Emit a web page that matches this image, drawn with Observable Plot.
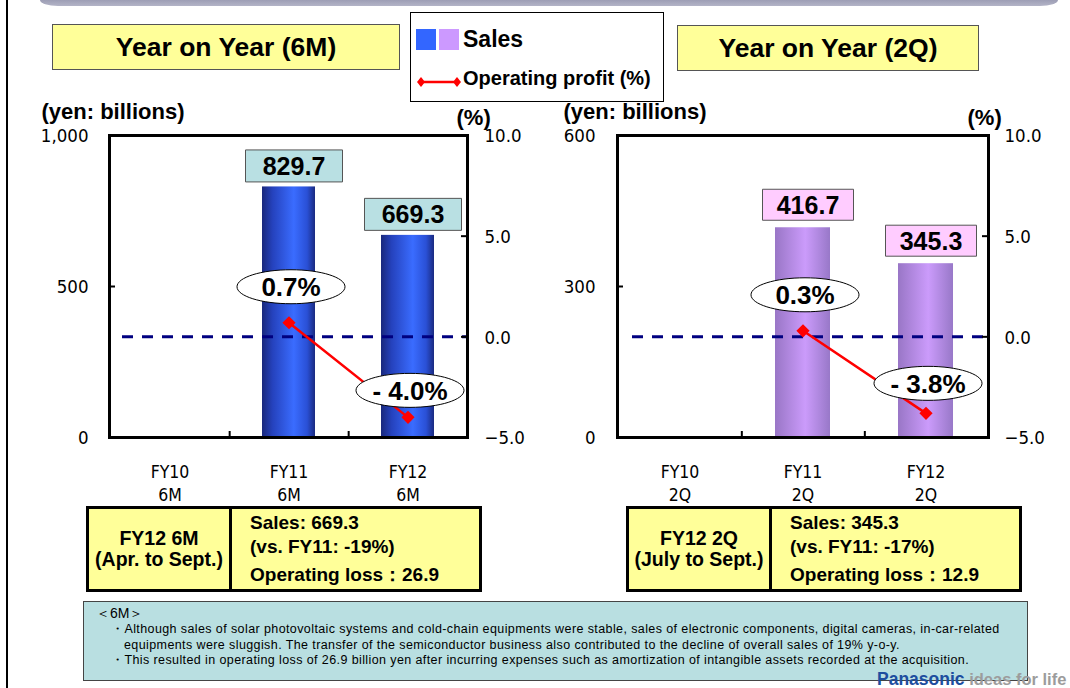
<!DOCTYPE html>
<html>
<head>
<meta charset="utf-8">
<script src="https://cdn.jsdelivr.net/npm/d3@7"></script>
<script src="https://cdn.jsdelivr.net/npm/@observablehq/plot@0.6"></script>
<style>
  html, body { margin: 0; padding: 0; background: #fff; }
  body { width: 1070px; height: 688px; position: relative; overflow: hidden;
         font-family: "Liberation Sans", Arial, Helvetica, sans-serif; color: #000; }
  .abs { position: absolute; }
  .topbar { left: 40px; top: 0; width: 1018px; height: 6px;
            background: linear-gradient(#9d9eb5, #b3b4c7); border-radius: 0 0 18px 18px / 0 0 6px 6px; }
  .edge { left: 6px; top: 0; width: 2px; height: 688px; background: #000; }
  .title { background: #ffff99; border: 1px solid #555; box-sizing: border-box; font-weight: bold;
           font-size: 26.5px; display: flex; align-items: center; justify-content: center; }
  .legend { left: 410px; top: 12px; width: 254px; height: 90px; border: 1px solid #000;
            box-sizing: border-box; background: #fff; }
  .legend .sw { position: absolute; top: 16px; width: 20px; height: 21px; }
  .legend .t1 { position: absolute; left: 52px; top: 13px; font-size: 23px; font-weight: bold; line-height: 26px; }
  .legend .t2 { position: absolute; left: 52px; top: 53px; font-size: 20px; font-weight: bold; line-height: 24px; white-space: nowrap; }
  .chart { top: 95px; width: 535px; height: 420px; }
  .info { top: 506px; width: 396px; height: 86px; border: 3px solid #000; box-sizing: border-box;
          background: #ffff99; display: flex; font-weight: bold; }
  .info .l { width: 140px; border-right: 3px solid #000; display: flex; flex-direction: column;
             justify-content: center; align-items: center; font-size: 19.5px; line-height: 21px; text-align: center; }
  .info .r { padding: 2px 0 0 18px; font-size: 19px; line-height: 24px; white-space: nowrap; }
  .info .r .gap { margin-top: 4px; }
  .notes { left: 83px; top: 601px; width: 945px; height: 80px; background: #b9dfe1; border: 1px solid #444;
           box-sizing: border-box; font-size: 12.5px; letter-spacing: 0.4px; line-height: 15.5px;
           padding: 2px 0 0 12px; white-space: nowrap; }
  .notes .head { font-size: 14px; letter-spacing: 0; line-height: 18px; }
  .notes .item { padding-left: 28px; text-indent: -13px; }
  .brand { left: 877px; top: 670px; font-weight: bold; font-size: 16.5px; white-space: nowrap; line-height: 18px; }
</style>
</head>
<body>
<svg width="0" height="0" style="position:absolute">
  <defs>
    <linearGradient id="barBlue" x1="0" x2="1" y1="0" y2="0">
      <stop offset="0" stop-color="#19287c"/>
      <stop offset="0.2" stop-color="#2542bd"/>
      <stop offset="0.6" stop-color="#3a6cff"/>
      <stop offset="0.85" stop-color="#2a50d6"/>
      <stop offset="1" stop-color="#1a2a80"/>
    </linearGradient>
    <linearGradient id="barLilac" x1="0" x2="1" y1="0" y2="0">
      <stop offset="0" stop-color="#9976c6"/>
      <stop offset="0.55" stop-color="#cb9bfb"/>
      <stop offset="1" stop-color="#9878c8"/>
    </linearGradient>
  </defs>
</svg>

<div class="abs edge"></div>
<div class="abs topbar"></div>
<div class="abs title" id="title6M" style="left:52px;top:24px;width:348px;height:46px"></div>
<div class="abs title" id="title2Q" style="left:677px;top:25px;width:302px;height:46px"></div>

<div class="abs legend">
  <div class="sw" style="left:5px;background:#3366ff"></div>
  <div class="sw" style="left:28px;background:#cc99ff"></div>
  <div class="t1">Sales</div>
  <svg style="position:absolute;left:6px;top:61px" width="44" height="16">
    <line x1="4" y1="8" x2="40" y2="8" stroke="#ff0000" stroke-width="2.5"/>
    <path d="M4 3 L8 8 L4 13 L0 8 Z" fill="#ff0000"/>
    <path d="M40 3 L44 8 L40 13 L36 8 Z" fill="#ff0000"/>
  </svg>
  <div class="t2">Operating profit (%)</div>
</div>

<div class="abs chart" id="chart6M" style="left:0"></div>
<div class="abs chart" id="chart2Q" style="left:535px"></div>

<div class="abs info" id="info6M" style="left:86px"></div>
<div class="abs info" id="info2Q" style="left:626px"></div>

<div class="abs notes" id="notes"></div>

<div class="abs brand"><span style="color:#1d4e9f;font-size:17.5px">Panasonic</span> <span style="color:#9c9c9c">ideas for life</span></div>

<script>
// Fiscal periods on the category axis
const categories = ["FY10", "FY11", "FY12"];

// First half (April to September), yen billions and operating margin %
const sales6M = [null, 829.7, 669.3];
const margin6M = [null, 0.7, -4.0];
const operatingLoss6M = 26.9;

// Second quarter (July to September)
const sales2Q = [null, 416.7, 345.3];
const margin2Q = [null, 0.3, -3.8];
const operatingLoss2Q = 12.9;

// Axis ticks
const salesTicks6M = [0, 500, 1000];
const salesTicks2Q = [0, 300, 600];
const marginTicks = [-5, 0, 5, 10];

// Text
const periodLabels = {"6M": "Apr. to Sept.", "2Q": "July to Sept."};
const noteHeading = "＜6M＞";
const noteItems = [
  ["Although sales of solar photovoltaic systems and cold-chain equipments were stable, sales of electronic components, digital cameras, in-car-related",
   "equipments were sluggish. The transfer of the semiconductor business also contributed to the decline of overall sales of 19% y-o-y."],
  ["This resulted in operating loss of 26.9 billion yen after incurring expenses such as amortization of intangible assets recorded at the acquisition."]
];

const narrow = '"Liberation Sans Narrow", "Arial Narrow", "DejaVu Sans Condensed", sans-serif';
const sans = '"Liberation Sans", Arial, Helvetica, sans-serif';

// Symbols: an oval callout and a rectangular value box
function ovalSymbol(rx, ry) {
  const k = 0.5523;
  return {draw(ctx) {
    ctx.moveTo(rx, 0);
    ctx.bezierCurveTo(rx, ry * k, rx * k, ry, 0, ry);
    ctx.bezierCurveTo(-rx * k, ry, -rx, ry * k, -rx, 0);
    ctx.bezierCurveTo(-rx, -ry * k, -rx * k, -ry, 0, -ry);
    ctx.bezierCurveTo(rx * k, -ry, rx, -ry * k, rx, 0);
    ctx.closePath();
  }};
}
function boxSymbol(w, h) {
  return {draw(ctx) { ctx.rect(-w / 2, -h / 2, w, h); }};
}

function yearOnYear(cfg) {
  const {period, sales, margin, salesTicks, barFill, boxFill, ml, mr, barInset,
         boxW, boxH, boxDx, boxDy, ovalDx, ovalDy, dashInset, yTitleDx, pctTitleDx, leftPad, rightPad} = cfg;
  const W = 535, H = 420, mt = 40, mb = 78;
  const frameW = W - ml - mr, frameH = H - mt - mb;
  const step = frameW / categories.length;
  const salesMax = salesTicks[salesTicks.length - 1];
  // the margin (%) axis shares the sales scale through a linear map
  const pctY = d3.scaleLinear([marginTicks[0], marginTicks[marginTicks.length - 1]], [0, salesMax]);
  const rows = categories.map((cat, i) => ({cat, sales: sales[i], margin: margin[i]}));
  const barRows = rows.filter(d => d.sales != null);
  const pctRows = rows.filter(d => d.margin != null);
  const pctText = v => v < 0 ? `- ${Math.abs(v).toFixed(1)}%` : `${v.toFixed(1)}%`;
  const oval = ovalSymbol(54, 17);

  return Plot.plot({
    width: W, height: H, marginLeft: ml, marginRight: mr, marginTop: mt, marginBottom: mb,
    style: {background: "transparent", overflow: "visible", fontFamily: narrow, color: "#000"},
    x: {type: "band", domain: categories, padding: 0},
    y: {domain: [0, salesMax]},
    marks: [
      Plot.barY(barRows, {x: "cat", y: "sales", fill: barFill, insetLeft: barInset, insetRight: barInset}),
      Plot.ruleY([pctY(0)], {stroke: "#000080", strokeWidth: 3, strokeDasharray: "11,9", insetLeft: dashInset}),
      Plot.line(pctRows, {x: "cat", y: d => pctY(d.margin), stroke: "#ff0000", strokeWidth: 2.5}),
      Plot.dot(pctRows, {x: "cat", y: d => pctY(d.margin), symbol: "diamond2", r: 5, fill: "#ff0000", stroke: "#ff0000"}),
      ...pctRows.map((d, i) => Plot.dot([d], {x: "cat", y: r => pctY(r.margin), symbol: oval, fill: "#fff",
        stroke: "#000", strokeWidth: 1, dx: ovalDx, dy: ovalDy[i]})),
      ...pctRows.map((d, i) => Plot.text([d], {x: "cat", y: r => pctY(r.margin), text: r => pctText(r.margin),
        dx: ovalDx, dy: ovalDy[i] + 1, fontSize: 26, fontWeight: "bold", fontFamily: sans})),
      Plot.dot(barRows, {x: "cat", y: "sales", symbol: boxSymbol(boxW, boxH), fill: boxFill, stroke: "#555",
        strokeWidth: 1, dx: boxDx, dy: boxDy}),
      Plot.text(barRows, {x: "cat", y: "sales", text: d => d.sales.toFixed(1), dx: boxDx, dy: boxDy + 1,
        fontSize: 25, fontWeight: "bold", fontFamily: sans}),
      Plot.frame({stroke: "#000", strokeWidth: 3}),
      Plot.ruleY(salesTicks.slice(1, -1), {insetRight: frameW - 6, strokeWidth: 2}),
      Plot.ruleY(marginTicks.slice(1, -1).map(pctY), {insetLeft: frameW - 6, strokeWidth: 2}),
      Plot.ruleX(categories.slice(0, -1), {dx: step / 2, insetTop: frameH - 6, strokeWidth: 2}),
      Plot.axisY(salesTicks, {anchor: "left", tickSize: 0, tickPadding: leftPad, fontSize: 18.5, dy: 1, label: null}),
      Plot.axisY(marginTicks, {anchor: "right", y: pctY, tickSize: 0, tickPadding: rightPad,
        tickFormat: d3.format(".1f"), fontSize: 18.5, dy: 1, label: null}),
      Plot.axisX({tickSize: 0, tickPadding: 23, tickFormat: c => `${c}\n${period}`, fontSize: 17.5,
        lineHeight: 1.37, label: null}),
      Plot.text(["(yen: billions)"], {frameAnchor: "top-left", dx: yTitleDx, dy: -24, textAnchor: "start",
        lineAnchor: "middle", fontSize: 22, fontWeight: "bold", fontFamily: sans}),
      Plot.text(["(%)"], {frameAnchor: "top-right", dx: pctTitleDx, dy: -18, textAnchor: "start",
        lineAnchor: "middle", fontSize: 22, fontWeight: "bold", fontFamily: sans})
    ]
  });
}

document.getElementById("chart6M").append(yearOnYear({
  period: "6M", sales: sales6M, margin: margin6M, salesTicks: salesTicks6M,
  barFill: "url(#barBlue)", boxFill: "#b9e0e3", ml: 109, mr: 68, barInset: 33,
  boxW: 97, boxH: 32, boxDx: 5, boxDy: -21, ovalDx: 2, ovalDy: [-36, -27], dashInset: 13,
  yTitleDx: -68, pctTitleDx: -11, leftPad: 21, rightPad: 17
}));
document.getElementById("chart2Q").append(yearOnYear({
  period: "2Q", sales: sales2Q, margin: margin2Q, salesTicks: salesTicks2Q,
  barFill: "url(#barLilac)", boxFill: "#ffccff", ml: 82, mr: 82, barInset: 34,
  boxW: 91, boxH: 31, boxDx: 5, boxDy: -23, ovalDx: 2, ovalDy: [-36, -30], dashInset: 15,
  yTitleDx: -54, pctTitleDx: -21, leftPad: 22, rightPad: 16
}));

for (const p of ["6M", "2Q"]) document.getElementById("title" + p).textContent = `Year on Year (${p})`;

function fillInfo(id, period, sales, loss) {
  const last = sales[sales.length - 1], prev = sales[sales.length - 2];
  const change = Math.round((last / prev - 1) * 100);
  const el = document.getElementById(id);
  const cur = categories[categories.length - 1], before = categories[categories.length - 2];
  el.innerHTML = `<div class="l"><div>${cur} ${period}</div><div>(${periodLabels[period]})</div></div>
    <div class="r"><div>Sales: ${last.toFixed(1)}</div><div>(vs. ${before}: ${change}%)</div>
    <div class="gap">Operating loss：${loss.toFixed(1)}</div></div>`;
}
fillInfo("info6M", "6M", sales6M, operatingLoss6M);
fillInfo("info2Q", "2Q", sales2Q, operatingLoss2Q);

const notes = document.getElementById("notes");
notes.innerHTML = `<div class="head">${noteHeading}</div>` +
  noteItems.map(lines => `<div class="item">・${lines.join("<br>")}</div>`).join("");
</script>
</body>
</html>
